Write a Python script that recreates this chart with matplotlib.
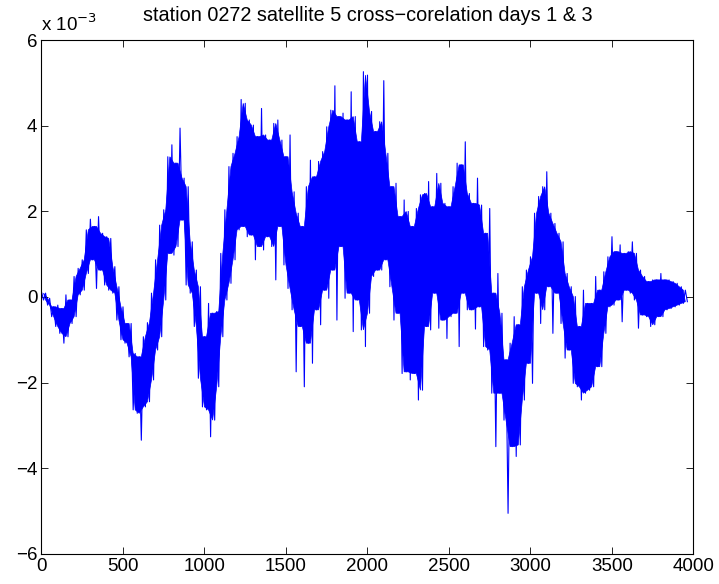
import numpy as np
import matplotlib
matplotlib.use('Agg')
import matplotlib.pyplot as plt

plt.rcParams['font.family'] = ['Liberation Sans', 'DejaVu Sans']

# envelope of the trace, units of 1e-3, one pair every 25 samples
step = 25
top_e3 = [0.12, 0.09, -0.03, -0.23, -0.19, -0.27, 0.05, -0.07, 0.48, 0.67,
          0.87, 1.57, 1.82, 1.65, 1.88, 1.49, 1.41, 1.37, 0.71, 0.24,
          -0.23, -0.62, -0.62, -1.32, -1.40, -0.93, -0.60, 0.09, 0.87, 1.68,
          2.04, 3.28, 3.56, 3.13, 3.95, 2.78, 2.58, 1.29, 0.63, 0.24,
          -0.93, -0.15, -0.38, -0.34, 1.02, 2.04, 3.05, 3.36, 3.75, 4.62,
          4.53, 4.14, 4.02, 3.75, 4.41, 3.79, 3.67, 4.06, 4.14, 3.67,
          3.28, 3.79, 2.46, 1.96, 1.65, 2.58, 3.20, 2.81, 3.17, 3.40,
          3.98, 4.37, 4.94, 4.22, 4.30, 4.14, 4.80, 4.22, 3.63, 5.27,
          5.19, 4.34, 3.87, 4.10, 5.06, 3.36, 2.58, 2.66, 1.88, 2.27,
          2.00, 1.65, 2.07, 2.39, 2.42, 2.70, 2.11, 2.89, 2.66, 2.19,
          2.11, 2.58, 3.13, 3.09, 3.63, 2.42, 2.19, 2.78, 2.15, 1.49,
          2.07, 0.09, 0.55, -0.38, -1.47, -1.08, -0.46, -0.65, 0.24, 0.63,
          0.94, 1.96, 2.35, 2.58, 2.93, 1.96, 1.72, 1.49, 1.29, 0.55,
          0.24, 0.01, -0.69, 0.16, -0.15, -0.15, 0.48, 0.16, 0.59, 0.94,
          1.41, 1.06, 1.22, 1.02, 1.06, 1.29, 1.02, 0.63, 0.48, 0.36,
          0.40, 0.40, 0.55, 0.40, 0.40, 0.36, 0.32, 0.24, 0.16]
bottom_e3 = [-0.07, -0.19, -0.46, -0.69, -0.85, -1.08, -0.93, -0.62, -0.46, 0.05,
             0.16, 0.55, 0.87, 0.20, 0.63, 0.28, 0.16, 0.09, -0.54, -1.00,
             -1.08, -1.40, -2.64, -2.72, -3.35, -2.57, -2.45, -1.94, -1.24, -0.93,
             -0.07, 1.02, 0.98, 1.18, 1.80, 0.28, 0.09, -0.69, -1.90, -2.57,
             -2.64, -3.27, -2.88, -2.10, -0.93, -0.07, 0.32, 0.87, 1.57, 1.65,
             1.41, 1.45, 0.87, 1.18, 1.10, 1.41, 1.18, 0.40, 1.65, 0.75,
             0.20, -0.30, -1.75, -0.69, -2.10, -1.08, -1.55, -0.30, -0.65, 0.16,
             -0.03, 0.63, -0.54, 1.18, -0.03, 0.09, -0.81, -0.07, -0.77, -1.16,
             -0.38, 0.48, 0.63, 0.63, 0.87, 0.24, -0.54, -0.38, -1.79, -1.75,
             -1.94, -1.79, -2.41, -2.18, -0.69, -0.77, 0.09, -0.73, -0.54, -0.97,
             -0.46, -0.38, -1.16, 0.09, -0.30, -0.30, -0.75, -0.23, -1.16, -1.24,
             -2.25, -3.50, -2.25, -2.88, -5.06, -3.50, -3.73, -3.46, -2.41, -1.55,
             -2.02, 0.09, -0.62, -0.30, 0.24, -0.85, 0.09, -0.62, -1.43, -1.24,
             -2.02, -2.10, -2.41, -2.25, -2.18, -2.10, -1.63, -1.63, -0.85, -0.23,
             -0.19, -0.07, -0.58, 0.16, 0.09, -0.07, -0.73, -0.42, -0.46, -0.69,
             -0.65, -0.46, -0.46, -0.30, -0.27, -0.23, -0.19, -0.15, -0.11]

top = np.array(top_e3)
bottom = np.array(bottom_e3)
n = len(top)
x = np.arange(n) * step
xs = np.empty(2 * n)
ys = np.empty(2 * n)
xs[0::2] = x
xs[1::2] = x + step / 2
ys[0::2] = top
ys[1::2] = bottom

# solid core of the band: the area every neighbouring stroke covers
hi = np.minimum(top[:-1], top[1:])
lo = np.maximum(bottom[:-1], bottom[1:])
hi_x = x[:-1] + step / 2
lo_x = x[1:]
mid = (np.interp(hi_x, lo_x, lo) + hi) / 2
hi = np.maximum(hi, mid)
lo = np.minimum(lo, np.interp(lo_x, hi_x, hi))
poly_x = np.concatenate([hi_x, lo_x[::-1]])
poly_y = np.concatenate([hi, lo[::-1]])

fig = plt.figure(figsize=(7.19, 5.84), dpi=100)
ax = fig.add_axes([0.0577, 0.0522, 0.9068, 0.8785])
ax.fill(poly_x, poly_y, color='#0000ff', linewidth=0.5)
ax.plot(xs, ys, color='#0000ff', linewidth=0.8)

ax.set_xlim(0, 4000)
ax.set_ylim(-6, 6)
ax.set_xticks(np.arange(0, 4001, 500))
ax.set_yticks(np.arange(-6, 7, 2))
ax.tick_params(direction='in', length=5, width=0.6, top=True, right=True, labelsize=13.5, pad=3)
for s in ax.spines.values():
    s.set_linewidth(0.8)

ax.set_title('station 0272 satellite 5 cross\u2212corelation days 1 & 3', fontsize=14.3, pad=14)
ax.text(0.0, 1.01, 'x 10$^{-3}$', transform=ax.transAxes, fontsize=13.5, ha='left', va='bottom')

fig.savefig('out.png', dpi=100)
